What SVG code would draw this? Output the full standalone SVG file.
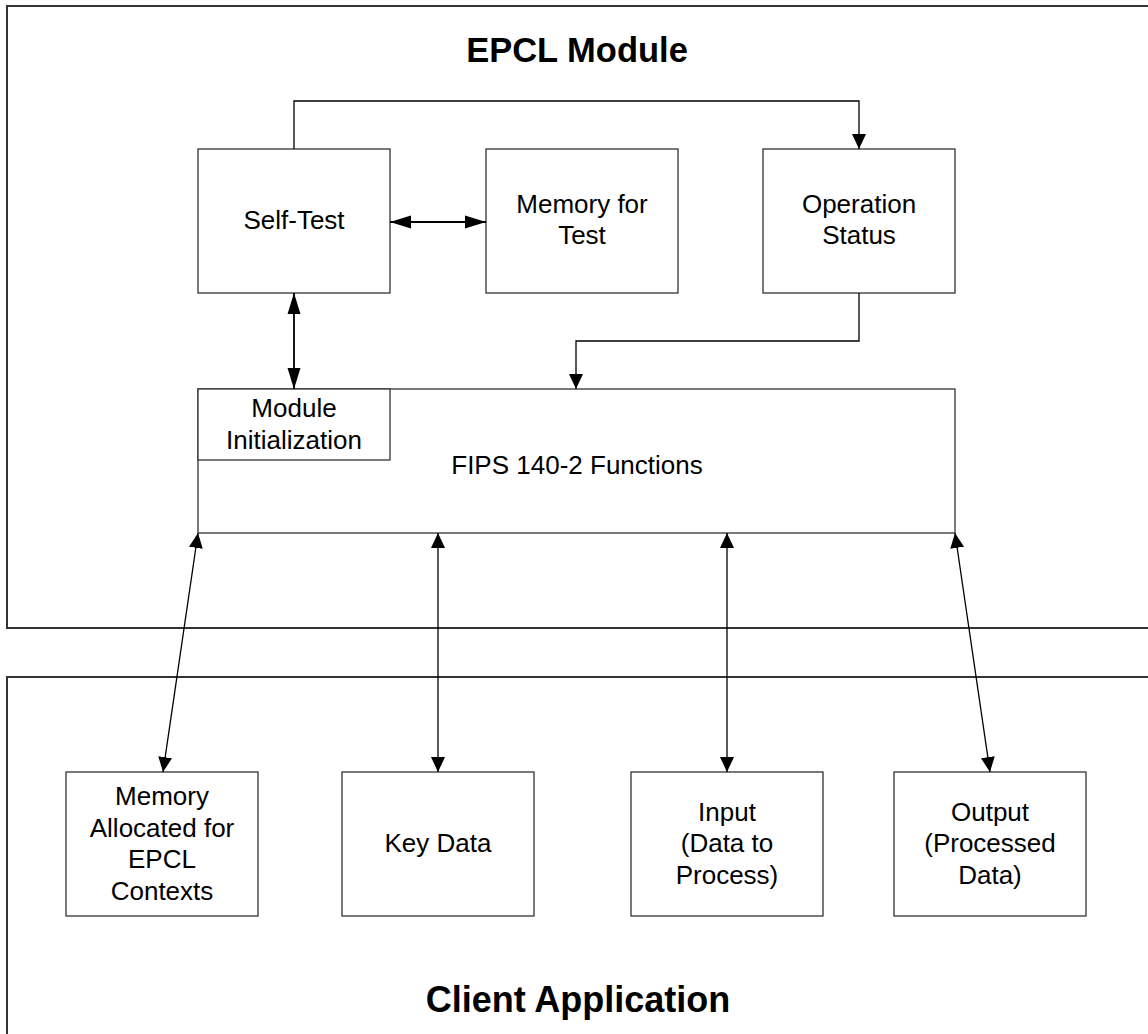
<svg xmlns="http://www.w3.org/2000/svg" width="1148" height="1034" viewBox="0 0 1148 1034">
<defs>
<style>
.frame{fill:none;stroke:#333;stroke-width:2}
.box{fill:#fff;stroke:#333;stroke-width:1.3}
.t{font-family:"Liberation Sans",Arial,sans-serif;font-size:26px;fill:#000;text-anchor:middle}
.title{font-family:"Liberation Sans",Arial,sans-serif;font-weight:bold;fill:#000;text-anchor:middle}
.c{fill:none;stroke:#000;stroke-width:1.3}
.cb{fill:none;stroke:#000;stroke-width:1.8}
</style>
<marker id="ah" markerWidth="15" markerHeight="14" refX="15" refY="7" orient="auto-start-reverse" markerUnits="userSpaceOnUse">
<path d="M0,0 L15,7 L0,14 Z" fill="#000"/>
</marker>
<marker id="ahb" markerWidth="21" markerHeight="14" refX="21" refY="7" orient="auto-start-reverse" markerUnits="userSpaceOnUse">
<path d="M0,0.5 L21,7 L0,13.5 Z" fill="#000"/>
</marker>
</defs>
<rect width="1148" height="1034" fill="#fff"/>
<g id="epcl-module">
<rect class="frame" x="7" y="6" width="1160" height="622"/>
<text class="title" x="577" y="62" font-size="34.5">EPCL Module</text>
</g>
<g id="client-application">
<rect class="frame" x="7" y="677" width="1160" height="380"/>
<text class="title" x="578" y="1012" font-size="36">Client Application</text>
</g>
<g id="self-test">
<rect class="box" x="198" y="149" width="192" height="144"/>
<text class="t" x="294" y="229">Self-Test</text>
</g>
<g id="memory-for-test">
<rect class="box" x="486" y="149" width="192" height="144"/>
<text class="t" x="582" y="213">Memory for</text>
<text class="t" x="582" y="244">Test</text>
</g>
<g id="operation-status">
<rect class="box" x="763" y="149" width="192" height="144"/>
<text class="t" x="859" y="213">Operation</text>
<text class="t" x="859" y="244">Status</text>
</g>
<g id="fips-functions">
<rect class="box" x="198" y="389" width="757" height="144"/>
<text class="t" x="577" y="474">FIPS 140-2 Functions</text>
</g>
<g id="module-initialization">
<rect class="box" x="198" y="389" width="192" height="71"/>
<text class="t" x="294" y="417">Module</text>
<text class="t" x="294" y="449">Initialization</text>
</g>
<g id="memory-allocated">
<rect class="box" x="66" y="772" width="192" height="144"/>
<text class="t" x="162" y="805">Memory</text>
<text class="t" x="162" y="837">Allocated for</text>
<text class="t" x="162" y="868">EPCL</text>
<text class="t" x="162" y="900">Contexts</text>
</g>
<g id="key-data">
<rect class="box" x="342" y="772" width="192" height="144"/>
<text class="t" x="438" y="852">Key Data</text>
</g>
<g id="input">
<rect class="box" x="631" y="772" width="192" height="144"/>
<text class="t" x="727" y="821">Input</text>
<text class="t" x="727" y="852">(Data to</text>
<text class="t" x="727" y="884">Process)</text>
</g>
<g id="output">
<rect class="box" x="894" y="772" width="192" height="144"/>
<text class="t" x="990" y="821">Output</text>
<text class="t" x="990" y="852">(Processed</text>
<text class="t" x="990" y="884">Data)</text>
</g>
<g id="connectors">
<polyline class="c" points="294,149 294,101 859,101 859,149" marker-end="url(#ah)"/>
<line class="cb" x1="390" y1="222" x2="486" y2="222" marker-start="url(#ahb)" marker-end="url(#ahb)"/>
<line class="cb" x1="294" y1="293" x2="294" y2="389" marker-start="url(#ahb)" marker-end="url(#ahb)"/>
<polyline class="c" points="859,293 859,341 576,341 576,389" marker-end="url(#ah)"/>
<line class="c" x1="198" y1="533" x2="163" y2="772" marker-start="url(#ah)" marker-end="url(#ah)"/>
<line class="c" x1="438" y1="533" x2="438" y2="772" marker-start="url(#ah)" marker-end="url(#ah)"/>
<line class="c" x1="727" y1="533" x2="727" y2="772" marker-start="url(#ah)" marker-end="url(#ah)"/>
<line class="c" x1="955" y1="533" x2="990" y2="772" marker-start="url(#ah)" marker-end="url(#ah)"/>
</g>
</svg>
